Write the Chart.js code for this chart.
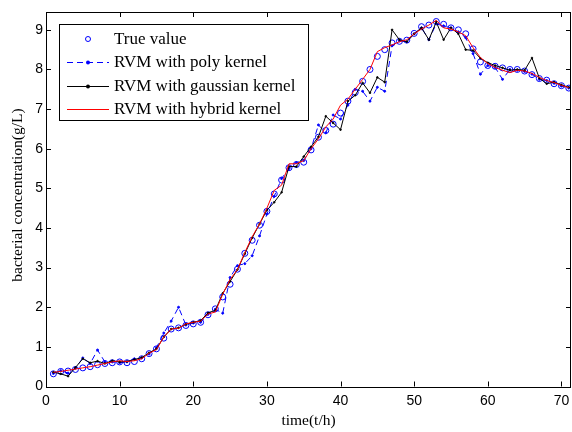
<!DOCTYPE html>
<html>
<head>
<meta charset="utf-8">
<title>RVM kernels</title>
<script src="https://cdn.jsdelivr.net/npm/chart.js@4.4.0/dist/chart.umd.min.js"></script>
<style>
  html, body { margin: 0; padding: 0; background: #fff; overflow: hidden; }
  canvas { display: block; }
</style>
</head>
<body>
<canvas id="chart" width="576" height="432"></canvas>
<script>
'use strict';

// time (h)
const hours = [1, 2, 3, 4, 5, 6, 7, 8, 9, 10, 11, 12, 13, 14, 15, 16, 17, 18, 19, 20,
  21, 22, 23, 24, 25, 26, 27, 28, 29, 30, 31, 32, 33, 34, 35, 36, 37, 38, 39, 40,
  41, 42, 43, 44, 45, 46, 47, 48, 49, 50, 51, 52, 53, 54, 55, 56, 57, 58, 59, 60,
  61, 62, 63, 64, 65, 66, 67, 68, 69, 70, 71];

const trueValue = [0.32, 0.38, 0.39, 0.43, 0.47, 0.50, 0.55, 0.58, 0.60, 0.62,
  0.60, 0.63, 0.70, 0.83, 0.95, 1.22, 1.45, 1.48, 1.54, 1.58,
  1.62, 1.81, 1.96, 2.26, 2.58, 2.96, 3.36, 3.69, 4.07, 4.42,
  4.86, 5.21, 5.52, 5.60, 5.66, 5.97, 6.29, 6.46, 6.62, 6.90,
  7.20, 7.42, 7.70, 8.00, 8.33, 8.50, 8.67, 8.71, 8.74, 8.91,
  9.08, 9.12, 9.21, 9.14, 9.05, 9.00, 8.90, 8.52, 8.19, 8.10,
  8.08, 8.04, 8.00, 8.00, 7.96, 7.87, 7.77, 7.73, 7.64, 7.59, 7.53];

const polyKernel = [0.33, 0.40, 0.34, 0.46, 0.72, 0.58, 0.92, 0.62, 0.62, 0.60,
  0.62, 0.70, 0.72, 0.82, 0.98, 1.35, 1.65, 2.00, 1.55, 1.60,
  1.62, 1.82, 1.95, 1.85, 2.75, 3.05, 3.10, 3.30, 3.80, 4.35,
  4.80, 5.25, 5.50, 5.65, 5.70, 6.00, 6.60, 6.40, 6.85, 6.75,
  7.10, 7.50, 7.45, 7.20, 7.55, 7.45, 8.60, 8.72, 8.70, 8.90,
  9.05, 8.75, 9.15, 9.10, 9.05, 8.95, 8.80, 8.40, 7.88, 8.10,
  8.05, 7.75, 8.00, 7.98, 7.95, 7.88, 7.75, 7.72, 7.65, 7.58, 7.53];

const gaussKernel = [0.36, 0.32, 0.26, 0.48, 0.70, 0.60, 0.64, 0.58, 0.65, 0.62,
  0.63, 0.68, 0.73, 0.85, 0.95, 1.25, 1.45, 1.48, 1.57, 1.62,
  1.66, 1.86, 1.92, 2.35, 2.65, 2.95, 3.35, 3.75, 4.10, 4.45,
  4.65, 4.90, 5.55, 5.55, 5.80, 6.05, 6.30, 6.82, 6.65, 6.48,
  7.20, 7.35, 7.66, 7.41, 7.80, 7.68, 9.00, 8.75, 8.70, 8.90,
  9.05, 8.75, 9.20, 8.75, 9.05, 8.90, 8.50, 8.48, 8.28, 8.17,
  8.10, 8.04, 7.98, 8.00, 7.98, 8.29, 7.78, 7.64, 7.68, 7.61, 7.55];

const hybridKernel = [0.36, 0.38, 0.41, 0.44, 0.47, 0.50, 0.54, 0.58, 0.62, 0.65,
  0.63, 0.65, 0.70, 0.84, 0.93, 1.25, 1.45, 1.47, 1.58, 1.62,
  1.65, 1.83, 1.88, 2.33, 2.70, 2.95, 3.38, 3.78, 4.10, 4.50,
  4.95, 5.08, 5.62, 5.62, 5.70, 6.00, 6.25, 6.55, 6.75, 7.10,
  7.25, 7.50, 7.75, 8.00, 8.45, 8.55, 8.62, 8.70, 8.75, 8.90,
  9.02, 9.12, 9.24, 9.05, 9.02, 8.95, 8.85, 8.55, 8.30, 8.15,
  8.05, 7.98, 7.92, 7.98, 7.96, 7.90, 7.80, 7.72, 7.67, 7.60, 7.54];

const xTicks = [0, 10, 20, 30, 40, 50, 60, 70];
const yTicks = [0, 1, 2, 3, 4, 5, 6, 7, 8, 9];

const legendLabels = ['True value', 'RVM with poly kernel', 'RVM with gaussian kernel', 'RVM with hybrid kernel'];
const legendColors = ['#0000ff', '#0000ff', '#000000', '#ff0000'];

function pts(values) {
  return hours.map((h, i) => ({ x: h, y: values[i] }));
}

// box, inner ticks, axis titles and the matlab style legend
const matlabFrame = {
  id: 'matlabFrame',
  afterDraw(chart) {
    const ctx = chart.ctx;
    const a = chart.chartArea;
    const xs = chart.scales.x, ys = chart.scales.y;
    ctx.save();
    ctx.strokeStyle = '#000';
    ctx.lineWidth = 1;
    ctx.beginPath();
    xTicks.forEach(v => {
      const px = Math.round(xs.getPixelForValue(v)) + 0.5;
      ctx.moveTo(px, a.bottom); ctx.lineTo(px, a.bottom - 5);
      ctx.moveTo(px, a.top); ctx.lineTo(px, a.top + 5);
    });
    yTicks.forEach(v => {
      const py = Math.round(ys.getPixelForValue(v)) + 0.5;
      ctx.moveTo(a.left, py); ctx.lineTo(a.left + 5, py);
      ctx.moveTo(a.right, py); ctx.lineTo(a.right - 5, py);
    });
    ctx.stroke();
    ctx.strokeRect(Math.round(a.left) + 0.5, Math.round(a.top) + 0.5,
      Math.round(a.right - a.left) - 1, Math.round(a.bottom - a.top));

    // axis titles
    ctx.fillStyle = '#000';
    ctx.font = '15.5px "Liberation Serif", "Times New Roman", serif';
    ctx.textAlign = 'center';
    ctx.textBaseline = 'middle';
    ctx.fillText('time(t/h)', (a.left + a.right) / 2, 421);
    ctx.save();
    ctx.translate(18, 195);
    ctx.rotate(-Math.PI / 2);
    ctx.fillText('bacterial concentration(g/L)', 0, 0);
    ctx.restore();

    // legend
    const lx = 59.5, ly = 24.5, lw = 249, lh = 96;
    ctx.fillStyle = '#fff';
    ctx.fillRect(lx, ly, lw, lh);
    ctx.strokeStyle = '#000';
    ctx.strokeRect(lx, ly, lw, lh);
    const rows = [39, 62, 86, 109];
    ctx.font = '17px "Liberation Serif", "Times New Roman", serif';
    ctx.textAlign = 'left';
    ctx.textBaseline = 'middle';
    rows.forEach((ry, i) => {
      const x0 = 67, x1 = 109, xm = 88;
      const col = legendColors[i];
      ctx.lineWidth = 1;
      ctx.strokeStyle = col;
      ctx.fillStyle = col;
      if (i === 0) {
        ctx.beginPath(); ctx.arc(xm, ry, 2.5, 0, Math.PI * 2); ctx.stroke();
      } else {
        ctx.setLineDash(i === 1 ? [6, 4] : []);
        ctx.beginPath(); ctx.moveTo(x0, ry + 0.5); ctx.lineTo(x1, ry + 0.5); ctx.stroke();
        ctx.setLineDash([]);
        if (i < 3) {
          ctx.beginPath(); ctx.arc(xm, ry + 0.5, 2, 0, Math.PI * 2); ctx.fill();
        }
      }
      ctx.fillStyle = '#000';
      ctx.fillText(legendLabels[i], 114, ry + 1);
    });
    ctx.restore();
  }
};

new Chart(document.getElementById('chart'), {
  type: 'scatter',
  data: {
    datasets: [{
      label: legendLabels[0],
      data: pts(trueValue),
      showLine: false,
      pointStyle: 'circle',
      pointRadius: 3,
      borderColor: '#0000ff',
      backgroundColor: 'rgba(0,0,0,0)',
      borderWidth: 1,
      order: 3
    }, {
      label: legendLabels[1],
      data: pts(polyKernel),
      showLine: true,
      borderColor: '#0000ff',
      backgroundColor: '#0000ff',
      borderWidth: 1,
      borderDash: [6, 4],
      pointRadius: 1,
      order: 2
    }, {
      label: legendLabels[2],
      data: pts(gaussKernel),
      showLine: true,
      borderColor: '#000',
      backgroundColor: '#000',
      borderWidth: 1,
      pointRadius: 0.8,
      order: 1
    }, {
      label: legendLabels[3],
      data: pts(hybridKernel),
      showLine: true,
      borderColor: '#ff0000',
      backgroundColor: '#ff0000',
      borderWidth: 1,
      pointRadius: 0,
      order: 0
    }]
  },
  options: {
    responsive: false,
    animation: false,
    devicePixelRatio: 1,
    layout: { padding: { top: 12, right: 0, left: 0, bottom: 0 } },
    plugins: {
      legend: { display: false },
      tooltip: { enabled: false }
    },
    scales: {
      x: {
        type: 'linear',
        min: 0,
        max: 71.3,
        afterBuildTicks: s => { s.ticks = xTicks.map(v => ({ value: v })); },
        afterFit: s => { s.height = 45.5; s.paddingLeft = 0; s.paddingRight = 0; },
        grid: { display: false, drawTicks: false },
        border: { display: false },
        ticks: {
          color: '#000',
          padding: 6,
          maxRotation: 0,
          font: { family: '"Liberation Sans", Arial, sans-serif', size: 14 }
        }
      },
      y: {
        min: 0,
        max: 9.45,
        afterBuildTicks: s => { s.ticks = yTicks.map(v => ({ value: v })); },
        afterFit: s => { s.width = 46; },
        grid: { display: false, drawTicks: false },
        border: { display: false },
        ticks: {
          color: '#000',
          padding: 3,
          font: { family: '"Liberation Sans", Arial, sans-serif', size: 14 }
        }
      }
    }
  },
  plugins: [matlabFrame]
});
</script>
</body>
</html>
